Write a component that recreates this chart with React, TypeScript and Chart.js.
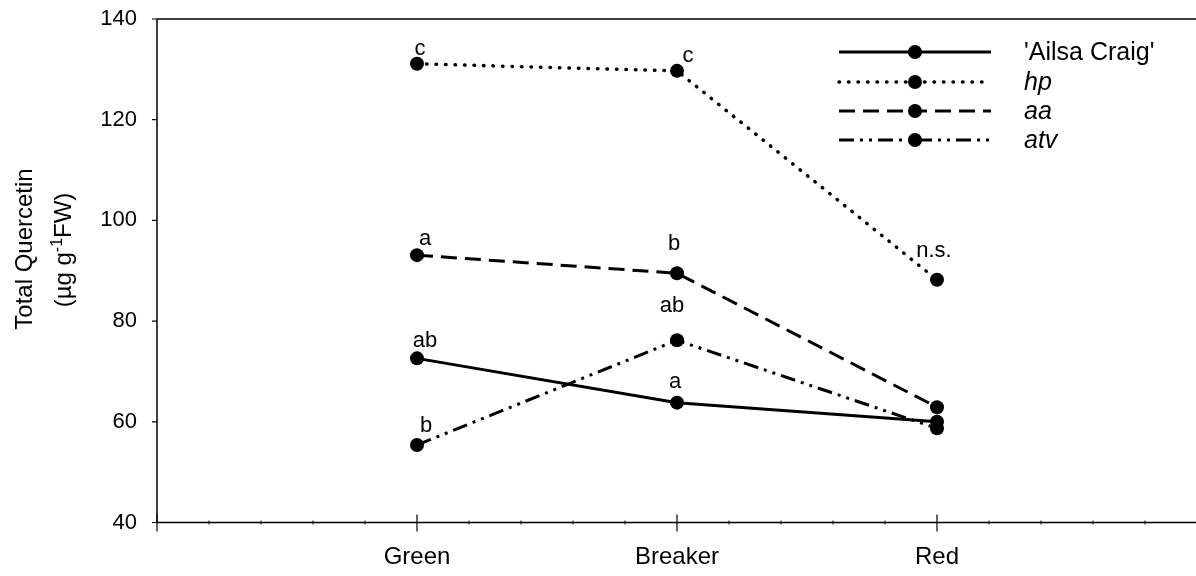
import React, { useEffect, useRef } from "react";
import { Chart, registerables } from "chart.js";

Chart.register(...registerables);

// ---------- data ----------
const categories = ["Green", "Breaker", "Red"];
const seriesNames = ["'Ailsa Craig'", "hp", "aa", "atv"];
const ailsaCraig = [72.6, 63.8, 60.0];
const hp = [131.1, 129.7, 88.2];
const aa = [93.1, 89.5, 62.9];
const atv = [55.4, 76.2, 58.7];
const ailsaLetters = ["ab", "a", ""];
const hpLetters = ["c", "c", "n.s."];
const aaLetters = ["a", "b", ""];
const atvLetters = ["b", "ab", ""];
const yTicks = [40, 60, 80, 100, 120, 140];

// ---------- styles ----------
const FONT = '"Liberation Sans", Arial, Helvetica, sans-serif';
const seriesValues = [ailsaCraig, hp, aa, atv];
const seriesLetters = [ailsaLetters, hpLetters, aaLetters, atvLetters];
const seriesItalic = [false, true, true, true];
const seriesDash: number[][] = [[], [0.5, 9], [16, 8], [15, 6, 3, 6, 3, 6]];
const seriesCap = ["butt", "round", "butt", "butt"];
const seriesWidth = [3, 3.5, 3, 3];
// label offsets (dx, dy of baseline) relative to marker centre
const letterOffsets: number[][][] = [
  [[8, -11], [-2, -15], [0, 0]],
  [[3, -9], [11, -9], [-3, -23]],
  [[8, -10], [-3, -23], [0, 0]],
  [[9, -13], [-5, -28], [0, 0]],
];

const axesPlugin = {
  id: "customAxes",
  beforeDatasetsDraw(chart: any) {
    const { ctx, chartArea: a, scales } = chart;
    const xs = scales.x;
    const ys = scales.y;
    ctx.save();
    ctx.strokeStyle = "#000";
    ctx.lineWidth = 1.5;
    ctx.beginPath();
    ctx.moveTo(a.left, a.top);
    ctx.lineTo(a.left, a.bottom);
    ctx.moveTo(a.left, a.top);
    ctx.lineTo(a.right + 2, a.top);
    ctx.moveTo(a.left, a.bottom);
    ctx.lineTo(a.right + 2, a.bottom);
    ctx.stroke();
    ctx.lineWidth = 1.2;
    ctx.beginPath();
    for (const v of yTicks) {
      const py = ys.getPixelForValue(v);
      ctx.moveTo(a.left - 5, py);
      ctx.lineTo(a.left, py);
    }
    for (let v = 0; v <= 4; v++) {
      const px = xs.getPixelForValue(v);
      ctx.moveTo(px, a.bottom - 8);
      ctx.lineTo(px, a.bottom + 9);
    }
    ctx.stroke();
    ctx.lineWidth = 1;
    ctx.beginPath();
    for (let k = 1; k < 20; k++) {
      if (k % 5 === 0) continue;
      const px = xs.getPixelForValue(k / 5);
      ctx.moveTo(px, a.bottom - 2);
      ctx.lineTo(px, a.bottom + 2);
    }
    ctx.stroke();
    ctx.restore();
  },
};

const overlayPlugin = {
  id: "overlay",
  afterDatasetsDraw(chart: any) {
    const ctx = chart.ctx;
    ctx.save();
    ctx.fillStyle = "#000";
    ctx.font = `22px ${FONT}`;
    ctx.textAlign = "center";
    ctx.textBaseline = "alphabetic";
    seriesLetters.forEach((letters, i) => {
      const meta = chart.getDatasetMeta(i);
      letters.forEach((t, j) => {
        if (!t) return;
        const el = meta.data[j];
        const [dx, dy] = letterOffsets[i][j];
        ctx.fillText(t, el.x + dx, el.y + dy);
      });
    });

    // legend
    const rows = [52, 82, 111, 140];
    seriesNames.forEach((name, i) => {
      const y = rows[i];
      ctx.save();
      ctx.strokeStyle = "#000";
      ctx.lineWidth = seriesWidth[i];
      ctx.lineCap = seriesCap[i];
      ctx.setLineDash(seriesDash[i]);
      ctx.beginPath();
      ctx.moveTo(839, y);
      ctx.lineTo(991, y);
      ctx.stroke();
      ctx.restore();
      ctx.beginPath();
      ctx.arc(915, y, 7, 0, Math.PI * 2);
      ctx.fill();
      ctx.font = `${seriesItalic[i] ? "italic " : ""}25px ${FONT}`;
      ctx.textAlign = "left";
      ctx.textBaseline = "middle";
      ctx.fillText(name, 1024, y + 1);
    });

    // y-axis title
    ctx.textBaseline = "alphabetic";
    ctx.save();
    ctx.translate(32, 249);
    ctx.rotate(-Math.PI / 2);
    ctx.font = `24px ${FONT}`;
    ctx.textAlign = "center";
    ctx.fillText("Total Quercetin", 0, 0);
    ctx.restore();

    ctx.save();
    ctx.translate(71, 250);
    ctx.rotate(-Math.PI / 2);
    ctx.textAlign = "left";
    const p1 = "(\u00b5g g";
    const p2 = "-1";
    const p3 = "FW)";
    ctx.font = `24px ${FONT}`;
    const w1 = ctx.measureText(p1).width;
    const w3 = ctx.measureText(p3).width;
    ctx.font = `16px ${FONT}`;
    const w2 = ctx.measureText(p2).width;
    let x0 = -(w1 + w2 + w3) / 2;
    ctx.font = `24px ${FONT}`;
    ctx.fillText(p1, x0, 0);
    x0 += w1;
    ctx.font = `16px ${FONT}`;
    ctx.fillText(p2, x0, -9);
    x0 += w2;
    ctx.font = `24px ${FONT}`;
    ctx.fillText(p3, x0, 0);
    ctx.restore();

    ctx.restore();
  },
};

export default function App() {
  const ref = useRef<HTMLCanvasElement | null>(null);
  useEffect(() => {
    if (!ref.current) return;
    const datasets = seriesNames.map((name, i) => ({
      label: name,
      data: seriesValues[i].map((v, j) => ({ x: j + 1, y: v })),
      borderColor: "#000",
      backgroundColor: "#000",
      borderWidth: seriesWidth[i],
      borderDash: seriesDash[i],
      borderCapStyle: seriesCap[i] as any,
      pointRadius: 7,
      pointHoverRadius: 7,
      pointBackgroundColor: "#000",
      pointBorderColor: "#000",
      pointBorderWidth: 0,
      tension: 0,
      fill: false,
      clip: false as any,
    }));
    const chart = new Chart(ref.current, {
      type: "line",
      data: { datasets },
      options: {
        animation: false,
        responsive: false,
        devicePixelRatio: 1,
        layout: { autoPadding: false, padding: { top: 19, right: 0, left: 0, bottom: 0 } },
        plugins: { legend: { display: false }, tooltip: { enabled: false } },
        events: [],
        scales: {
          x: {
            type: "linear",
            min: 0,
            max: (1196 - 157) / 260,
            grid: { display: false, drawTicks: false, tickLength: 0 },
            border: { display: false },
            afterBuildTicks: (scale: any) => {
              scale.ticks = categories.map((_, i) => ({ value: i + 1 }));
            },
            afterFit: (scale: any) => {
              scale.height = 576 - 522.5;
              scale.paddingLeft = 0;
              scale.paddingRight = 0;
            },
            ticks: {
              autoSkip: false,
              maxRotation: 0,
              padding: 20,
              color: "#000",
              font: { family: FONT, size: 24 },
              callback: (v: any) => categories[Math.round(v) - 1] ?? "",
            },
          },
          y: {
            min: 40,
            max: 140,
            grid: { display: false, drawTicks: false, tickLength: 0 },
            border: { display: false },
            afterBuildTicks: (scale: any) => {
              scale.ticks = yTicks.map((v) => ({ value: v }));
            },
            afterFit: (scale: any) => {
              scale.width = 157;
              scale.paddingTop = 0;
              scale.paddingBottom = 0;
            },
            ticks: {
              padding: 20,
              color: "#000",
              font: { family: FONT, size: 22 },
            },
          },
        },
      },
      plugins: [axesPlugin, overlayPlugin],
    });
    return () => chart.destroy();
  }, []);
  return (
    <div style={{ position: "fixed", left: 0, top: 0, width: 1196, height: 576, background: "#fff" }}>
      <canvas ref={ref} width={1196} height={576} style={{ display: "block" }} />
    </div>
  );
}
